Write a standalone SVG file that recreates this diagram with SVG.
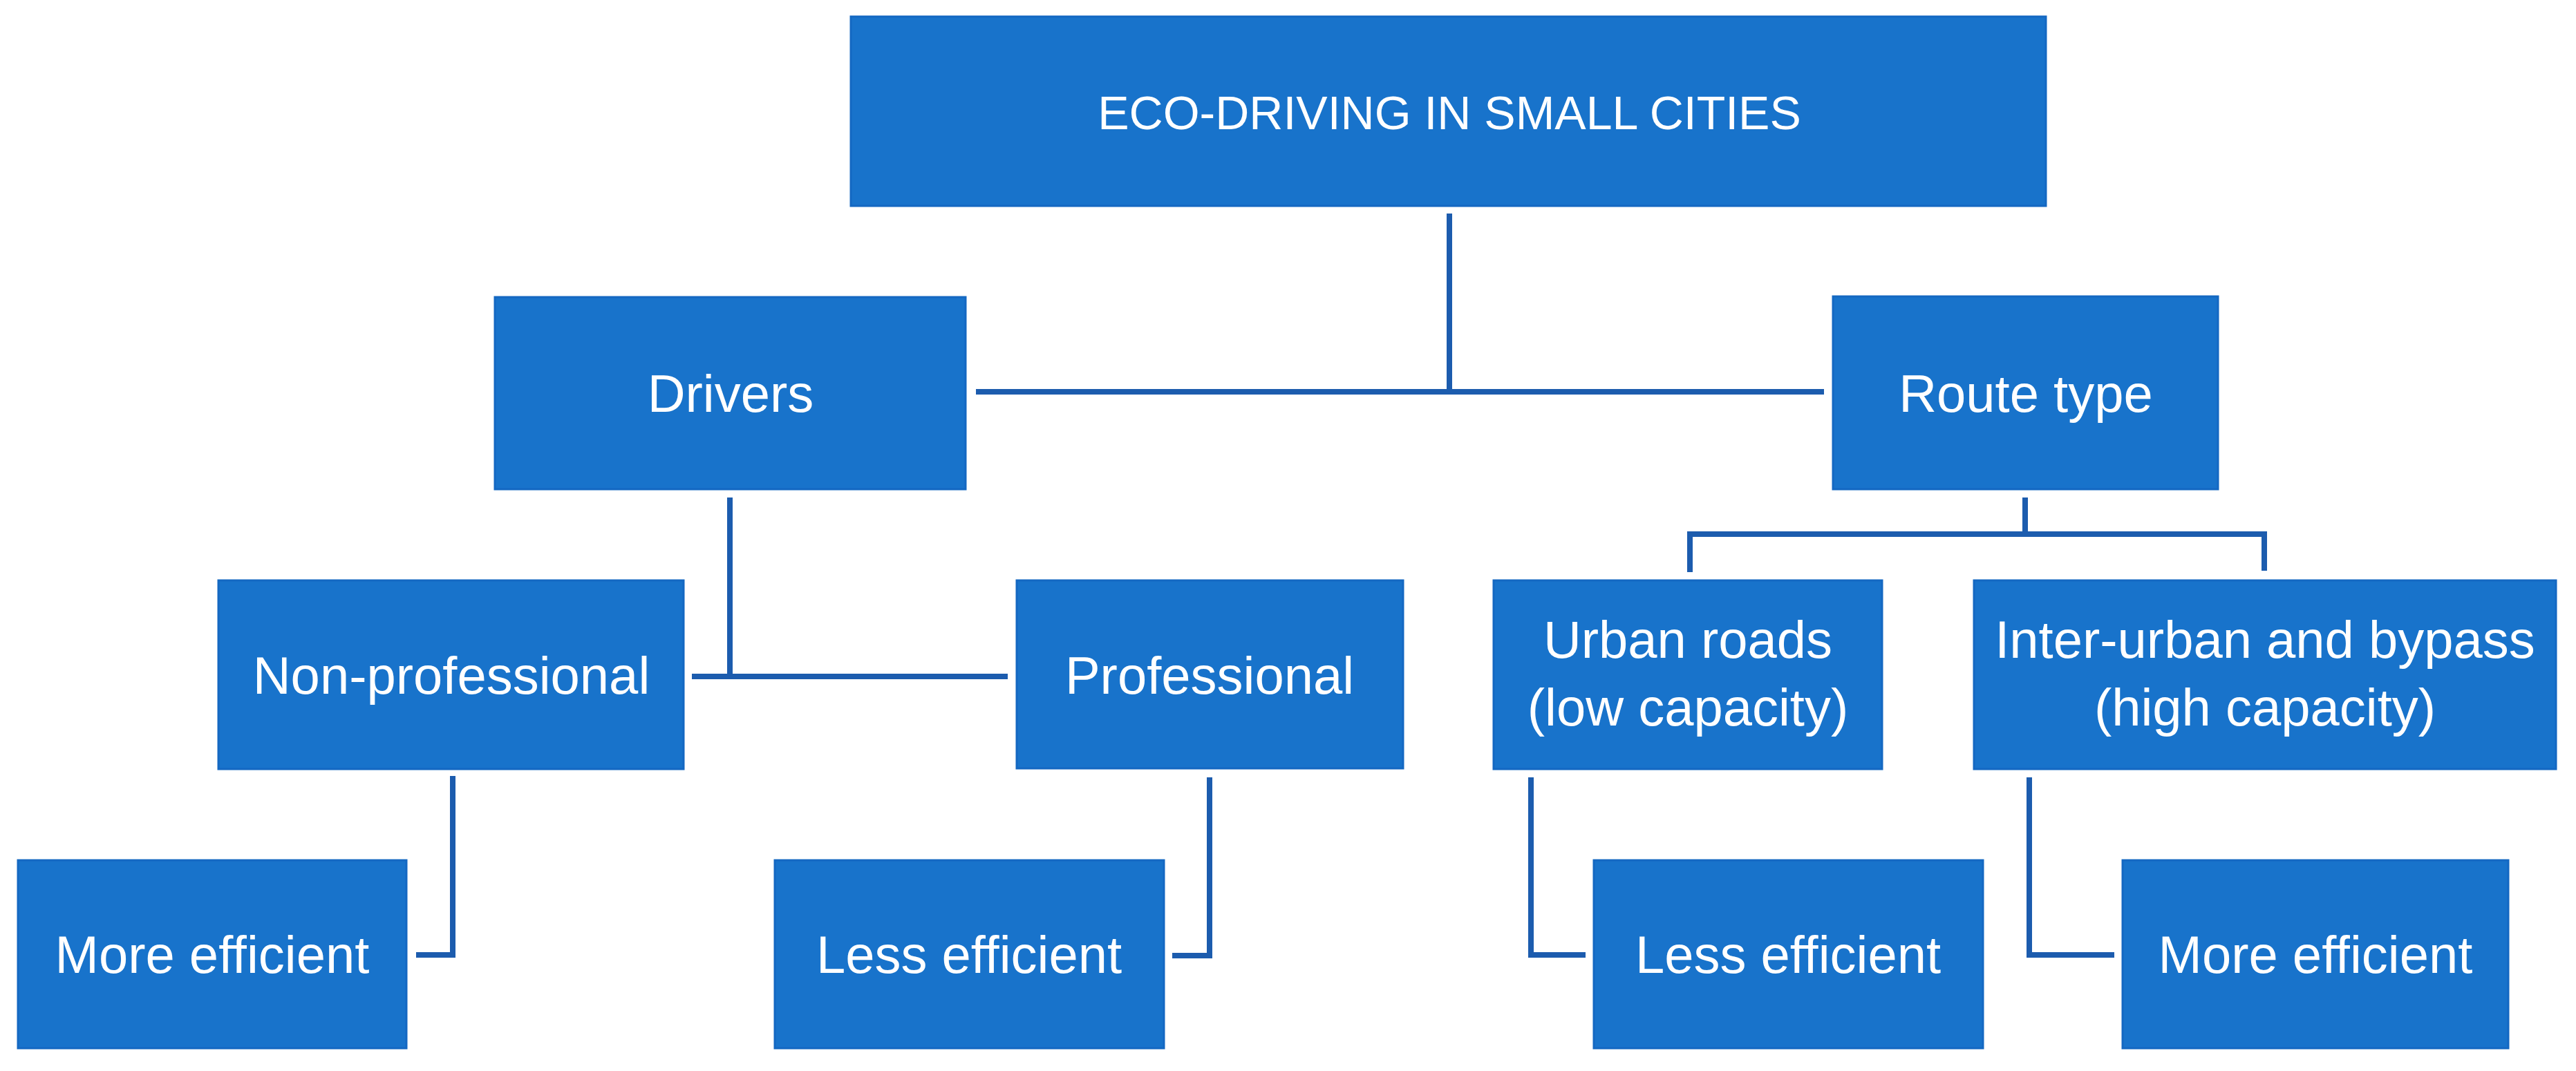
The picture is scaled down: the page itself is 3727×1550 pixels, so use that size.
<svg xmlns="http://www.w3.org/2000/svg" width="3727" height="1550" viewBox="0 0 3727 1550">
<style>
.box{fill:#1873CB;stroke:#1468C2;stroke-width:3}
.lbl{fill:#FFFFFF;font-family:"Liberation Sans",Arial,sans-serif;font-size:76px;text-anchor:middle}
.top{font-size:68px}
.conn{fill:none;stroke:#1C5CAE;stroke-width:8;stroke-linejoin:miter}
</style>
<rect width="3727" height="1550" fill="#FFFFFF"/>
<g id="connectors">
<polyline class="conn" points="2097,309 2097,567"/>
<polyline class="conn" points="1412,567 2639,567"/>
<polyline class="conn" points="1056,720 1056,979"/>
<polyline class="conn" points="1001,979 1458,979"/>
<polyline class="conn" points="2930,720 2930,773"/>
<polyline class="conn" points="2445,828 2445,773 3276,773 3276,826"/>
<polyline class="conn" points="655,1123 655,1382 602,1382"/>
<polyline class="conn" points="1750,1125 1750,1383 1696,1383"/>
<polyline class="conn" points="2215,1125 2215,1382 2294,1382"/>
<polyline class="conn" points="2936,1125 2936,1382 3059,1382"/>
</g>
<g id="node-root">
<rect class="box" x="1231" y="24" width="1729" height="274"/>
<text class="lbl top" x="2097" y="187">ECO-DRIVING IN SMALL CITIES</text>
</g>
<g id="node-drivers">
<rect class="box" x="716" y="430" width="681" height="278"/>
<text class="lbl" x="1057" y="596">Drivers</text>
</g>
<g id="node-route-type">
<rect class="box" x="2652" y="429" width="557" height="279"/>
<text class="lbl" x="2931" y="596">Route type</text>
</g>
<g id="node-non-professional">
<rect class="box" x="316" y="840" width="673" height="273"/>
<text class="lbl" x="653" y="1004">Non-professional</text>
</g>
<g id="node-professional">
<rect class="box" x="1471" y="840" width="559" height="272"/>
<text class="lbl" x="1750" y="1004">Professional</text>
</g>
<g id="node-urban">
<rect class="box" x="2161" y="840" width="562" height="273"/>
<text class="lbl" x="2442" y="952">Urban roads</text>
<text class="lbl" x="2442" y="1050">(low capacity)</text>
</g>
<g id="node-interurban">
<rect class="box" x="2856" y="840" width="842" height="273"/>
<text class="lbl" x="3277" y="952">Inter-urban and bypass</text>
<text class="lbl" x="3277" y="1050">(high capacity)</text>
</g>
<g id="node-more-efficient-1">
<rect class="box" x="26" y="1245" width="562" height="272"/>
<text class="lbl" x="307" y="1408">More efficient</text>
</g>
<g id="node-less-efficient-1">
<rect class="box" x="1121" y="1245" width="563" height="272"/>
<text class="lbl" x="1402" y="1408">Less efficient</text>
</g>
<g id="node-less-efficient-2">
<rect class="box" x="2306" y="1245" width="563" height="272"/>
<text class="lbl" x="2587" y="1408">Less efficient</text>
</g>
<g id="node-more-efficient-2">
<rect class="box" x="3071" y="1245" width="558" height="272"/>
<text class="lbl" x="3350" y="1408">More efficient</text>
</g>
</svg>
